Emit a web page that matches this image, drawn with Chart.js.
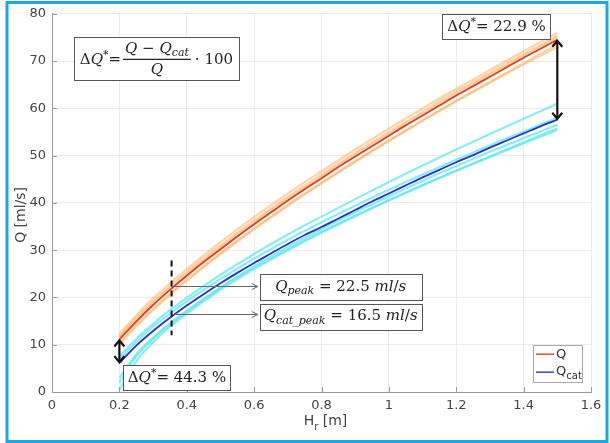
<!DOCTYPE html>
<html>
<head>
<meta charset="utf-8">
<script src="https://cdn.jsdelivr.net/npm/chart.js@4/dist/chart.umd.min.js"></script>
<style>
html,body{margin:0;padding:0;background:#fff;}
#wrap{position:relative;width:610px;height:443px;}
</style>
</head>
<body>
<div id="wrap"><canvas id="c" width="610" height="443"></canvas></div>
<script>
// ---------------- data ----------------
const H = [0.2,0.25,0.3,0.35,0.4,0.45,0.5,0.55,0.6,0.65,0.7,0.75,0.8,0.85,0.9,0.95,1.0,1.05,1.1,1.15,1.2,1.25,1.3,1.35,1.4,1.45,1.5];
const Q = [11.1,14.9,18.4,21.6,24.6,27.5,30.2,32.9,35.5,38.0,40.5,42.9,45.2,47.6,49.8,52.0,54.2,56.4,58.5,60.6,62.7,64.7,66.7,68.7,70.7,72.6,74.5];
const Qcat = [6.1,9.8,12.9,15.7,18.3,20.7,23.0,25.2,27.3,29.3,31.3,33.2,34.9,36.7,38.5,40.3,42.0,43.7,45.4,47.0,48.6,50.1,51.7,53.2,54.7,56.2,57.6];

const bandH = [0.2,0.25,0.3,0.35,0.4,0.5,0.6,0.7,0.8,0.9,1.0,1.1,1.2,1.3,1.4,1.5];
const qRunA = [12.3,16.2,19.8,23.0,26.0,31.7,37.0,42.0,46.7,51.3,55.7,60.0,64.1,68.1,72.1,76.0];
const qRunB = [11.8,15.7,19.2,22.4,25.4,31.0,36.3,41.3,46.0,50.6,55.0,59.3,63.5,67.5,71.5,75.3];
const qRunC = [10.4,14.2,17.6,20.8,23.8,29.4,34.6,39.6,44.3,48.8,53.2,57.4,61.5,65.4,69.3,72.9];
const qRunD = [10.0,13.8,17.3,20.5,23.5,29.1,34.4,39.4,44.1,48.7,53.1,57.4,61.6,65.6,69.6,73.5];
const qRunE = [11.5,15.3,18.8,22.0,25.0,30.6,35.9,40.9,45.6,50.2,54.6,58.9,63.1,67.1,71.1,75.0];
const catRunA = [7.5,11.2,14.4,17.3,19.9,24.8,29.2,33.3,37.1,40.8,44.4,47.9,51.3,54.6,57.8,61.0];
const catRunB = [6.8,10.6,13.8,16.6,19.2,23.9,28.2,32.2,35.9,39.4,42.8,46.0,49.1,52.2,55.1,58.0];
const catRunC = [3.0,8.0,11.5,14.5,17.2,22.0,26.3,30.2,33.9,37.3,40.6,43.8,46.8,49.7,52.6,55.4];
const catRunD = [0.5,6.5,10.5,13.8,16.6,21.6,26.0,30.0,33.7,37.2,40.5,43.7,46.8,49.8,52.8,55.8];
const catRunE = [2.0,7.5,11.2,14.3,17.0,22.1,26.6,30.7,34.5,38.0,41.4,44.7,47.8,50.8,53.7,56.5];

const xTickLabels = ['0','0.2','0.4','0.6','0.8','1','1.2','1.4','1.6'];
const yTickLabels = ['0','10','20','30','40','50','60','70','80'];

const hPeak = 0.355;
const qPeak = 22.5;
const qCatPeak = 16.5;
const dqLow = '44.3 %';
const dqHigh = '22.9 %';
const seriesNames = ['Q', 'Q', 'cat']; // legend: "Q" and "Q" with subscript "cat"

// ---------------- helpers ----------------
const pts = (xs, ys) => xs.map((x, i) => ({x, y: ys[i]}));
const band = (arr, color) => ({data: pts(bandH, arr), borderColor: color, borderWidth: 2.2, pointRadius: 0, cubicInterpolationMode: 'monotone', fill: false});
const ORANGE = 'rgba(248,178,98,0.55)';
const CYAN = 'rgba(100,230,240,0.75)';
const FAM = '"DejaVu Serif", serif';

function fontFor(s, size) {
  return s === 'sub' ? 'italic ' + Math.round(size*0.72) + 'px ' + FAM :
         s === 'sup' ? Math.round(size*0.7) + 'px ' + FAM :
         s === 'i' ? 'italic ' + size + 'px ' + FAM : size + 'px ' + FAM;
}
function measureRich(ctx, parts, size) {
  let w = 0;
  parts.forEach(p => { ctx.font = fontFor(p[1], size); w += ctx.measureText(p[0]).width; });
  return w;
}
function richText(ctx, x, y, parts, size, align) {
  const w = measureRich(ctx, parts, size);
  let cx = align === 'center' ? x - w/2 : x;
  ctx.textBaseline = 'middle';
  ctx.textAlign = 'left';
  parts.forEach(p => {
    ctx.font = fontFor(p[1], size);
    const dy = p[1] === 'sub' ? size*0.3 : p[1] === 'sup' ? -size*0.35 : 0;
    ctx.fillText(p[0], cx, y + dy);
    cx += ctx.measureText(p[0]).width;
  });
  return w;
}

function doubleArrow(ctx, x, y1, y2) {
  ctx.save();
  ctx.strokeStyle = '#111'; ctx.lineWidth = 2.2;
  ctx.beginPath(); ctx.moveTo(x, y1 + 2); ctx.lineTo(x, y2 - 2); ctx.stroke();
  ctx.beginPath();
  ctx.moveTo(x - 5, y1 + 7); ctx.lineTo(x, y1 + 1); ctx.lineTo(x + 5, y1 + 7);
  ctx.moveTo(x - 5, y2 - 7); ctx.lineTo(x, y2 - 1); ctx.lineTo(x + 5, y2 - 7);
  ctx.stroke();
  ctx.restore();
}

function boxAt(ctx, l, t, r, b) {
  ctx.save();
  ctx.fillStyle = '#fff';
  ctx.fillRect(l, t, r - l, b - t);
  ctx.strokeStyle = '#555'; ctx.lineWidth = 1;
  ctx.strokeRect(Math.round(l)+0.5, Math.round(t)+0.5, Math.round(r-l), Math.round(b-t));
  ctx.restore();
}

const overlay = {
  id: 'overlay',
  afterDatasetsDraw(chart) {
    const ctx = chart.ctx;
    const xs = chart.scales.x, ys = chart.scales.y;
    const px = v => xs.getPixelForValue(v), py = v => ys.getPixelForValue(v);
    const area = chart.chartArea;

    // inward ticks
    ctx.save();
    ctx.strokeStyle = '#999'; ctx.lineWidth = 1;
    ctx.beginPath();
    xTickLabels.forEach((s) => { const X = Math.round(px(parseFloat(s))) + 0.5; ctx.moveTo(X, area.bottom); ctx.lineTo(X, area.bottom - 5); });
    yTickLabels.forEach((s) => { const Y = Math.round(py(parseFloat(s))) + 0.5; ctx.moveTo(area.left, Y); ctx.lineTo(area.left + 5, Y); });
    ctx.stroke();
    ctx.restore();

    ctx.save();
    ctx.fillStyle = '#222';

    // formula box
    {
      const l = px(0.065), t = py(75.0), r = px(0.555), b = py(65.9);
      boxAt(ctx, l, t, r, b);
      ctx.fillStyle = '#222';
      const cy = (t + b) / 2;
      const S = 15;
      const lhs = [['Δ','n'],['Q','i'],['*','sup'],['=','n']];
      const num = [['Q','i'],[' − ','n'],['Q','i'],['cat','sub']];
      const tail = [['· 100','n']];
      const wl = measureRich(ctx, lhs, S), wn = measureRich(ctx, num, S), wt = measureRich(ctx, tail, S);
      const total = wl + 2 + wn + 4 + 4 + wt;
      let x0 = (l + r) / 2 - total / 2;
      richText(ctx, x0, cy + 1, lhs, S, 'left');
      const fx = x0 + wl + 2 + (wn + 4) / 2;
      richText(ctx, fx, cy - 10, num, S, 'center');
      ctx.strokeStyle = '#222'; ctx.lineWidth = 1.2;
      ctx.beginPath(); ctx.moveTo(fx - wn/2 - 2, cy + 0.5); ctx.lineTo(fx + wn/2 + 2, cy + 0.5); ctx.stroke();
      richText(ctx, fx, cy + 11, [['Q','i']], S, 'center');
      richText(ctx, fx + wn/2 + 6, cy + 1, tail, S, 'left');
    }

    // top-right delta box
    {
      const l = px(1.159), t = py(79.9), r = px(1.48), b = py(74.7);
      boxAt(ctx, l, t, r, b);
      ctx.fillStyle = '#222';
      richText(ctx, (l + r) / 2, (t + b) / 2 + 1, [['Δ','n'],['Q','i'],['*','sup'],['= ' + dqHigh,'n']], 15, 'center');
    }

    // bottom-left delta box
    {
      const l = px(0.212), t = py(5.7), r = px(0.53), b = py(0.4);
      boxAt(ctx, l, t, r, b);
      ctx.fillStyle = '#222';
      richText(ctx, (l + r) / 2, (t + b) / 2 + 1, [['Δ','n'],['Q','i'],['*','sup'],['= ' + dqLow,'n']], 15, 'center');
    }

    // double arrows
    doubleArrow(ctx, px(H[H.length-1]), py(Q[Q.length-1]), py(Qcat[Qcat.length-1]));
    doubleArrow(ctx, px(H[0]), py(Q[0]), py(Qcat[0]));

    // dashed vertical line at peak
    ctx.save();
    ctx.strokeStyle = '#111'; ctx.lineWidth = 2; ctx.setLineDash([6, 4]);
    ctx.beginPath(); ctx.moveTo(px(hPeak), py(27.8)); ctx.lineTo(px(hPeak), py(12.0)); ctx.stroke();
    ctx.restore();

    // peak boxes and grey arrows
    const boxL = px(0.617), boxR = px(1.097);
    ctx.save();
    ctx.strokeStyle = '#666'; ctx.lineWidth = 1;
    [qPeak, qCatPeak].forEach(v => {
      const Y = Math.round(py(v)) + 0.5;
      ctx.beginPath(); ctx.moveTo(px(hPeak), Y); ctx.lineTo(boxL - 3, Y); ctx.stroke();
      ctx.beginPath(); ctx.moveTo(boxL - 8, Y - 3); ctx.lineTo(boxL - 2, Y); ctx.lineTo(boxL - 8, Y + 3); ctx.stroke();
    });
    ctx.restore();
    {
      const t = py(25.0), b = py(19.4);
      boxAt(ctx, boxL, t, boxR, b);
      ctx.fillStyle = '#222';
      richText(ctx, (boxL + boxR) / 2, (t + b) / 2, [['Q','i'],['peak','sub'],[' = ' + qPeak + ' ','n'],['ml','i'],['/','n'],['s','i']], 15, 'center');
    }
    {
      const t = py(18.7), b = py(13.2);
      boxAt(ctx, boxL, t, boxR, b);
      ctx.fillStyle = '#222';
      richText(ctx, (boxL + boxR) / 2, (t + b) / 2, [['Q','i'],['cat_peak','sub'],[' = ' + qCatPeak + ' ','n'],['ml','i'],['/','n'],['s','i']], 15, 'center');
    }

    // legend
    {
      const l = px(1.428), t = py(9.9), r = px(1.572), b = py(2.0);
      ctx.fillStyle = '#fff'; ctx.fillRect(l, t, r - l, b - t);
      ctx.strokeStyle = '#aaa'; ctx.lineWidth = 1;
      ctx.strokeRect(Math.round(l)+0.5, Math.round(t)+0.5, Math.round(r-l), Math.round(b-t));
      const y1 = t + 9, y2 = t + 27;
      ctx.lineWidth = 1.5;
      ctx.strokeStyle = '#f04040'; ctx.beginPath(); ctx.moveTo(l + 3, y1); ctx.lineTo(l + 21, y1); ctx.stroke();
      ctx.strokeStyle = '#3848d8'; ctx.beginPath(); ctx.moveTo(l + 3, y2); ctx.lineTo(l + 21, y2); ctx.stroke();
      ctx.fillStyle = '#333'; ctx.textBaseline = 'middle'; ctx.textAlign = 'left';
      ctx.font = '13px "DejaVu Sans", sans-serif';
      ctx.fillText(seriesNames[0], l + 23, y1);
      ctx.fillText(seriesNames[1], l + 23, y2 - 1);
      const w = ctx.measureText(seriesNames[1]).width;
      ctx.font = '10px "DejaVu Sans", sans-serif';
      ctx.fillText(seriesNames[2], l + 23 + w, y2 + 4);
    }

    // axis titles
    ctx.fillStyle = '#444'; ctx.textBaseline = 'middle';
    ctx.font = '14px "DejaVu Sans", sans-serif';
    const cx = (area.left + area.right) / 2;
    const wH = ctx.measureText('H').width;
    ctx.font = '10px "DejaVu Sans", sans-serif';
    const wr = ctx.measureText('r').width;
    ctx.font = '14px "DejaVu Sans", sans-serif';
    const wm = ctx.measureText(' [m]').width;
    let x0 = cx - (wH + wr + wm) / 2 + 4;
    ctx.textAlign = 'left';
    ctx.fillText('H', x0, 421);
    ctx.font = '10px "DejaVu Sans", sans-serif';
    ctx.fillText('r', x0 + wH, 427);
    ctx.font = '14px "DejaVu Sans", sans-serif';
    ctx.fillText(' [m]', x0 + wH + wr, 421);

    ctx.save();
    ctx.translate(21, (area.top + area.bottom) / 2 + 12);
    ctx.rotate(-Math.PI / 2);
    ctx.textAlign = 'center';
    ctx.fillText('Q [ml/s]', 0, 0);
    ctx.restore();

    // outer frame
    ctx.strokeStyle = '#1aa7e6'; ctx.lineWidth = 3;
    ctx.strokeRect(7, 2.5, 600, 439);
    ctx.restore();
  }
};

new Chart(document.getElementById('c'), {
  type: 'line',
  data: {
    datasets: [
      {label: 'Q', data: pts(H, Q), borderColor: '#e63a22', borderWidth: 1.8, pointRadius: 0, cubicInterpolationMode: 'monotone', fill: false},
      {label: 'Qcat', data: pts(H, Qcat), borderColor: '#2233d6', borderWidth: 1.8, pointRadius: 0, cubicInterpolationMode: 'monotone', fill: false},
      band(qRunA, ORANGE), band(qRunB, ORANGE), band(qRunC, ORANGE), band(qRunD, ORANGE), band(qRunE, ORANGE),
      band(catRunA, CYAN), band(catRunB, CYAN), band(catRunC, CYAN), band(catRunD, CYAN), band(catRunE, CYAN)
    ]
  },
  options: {
    responsive: false,
    animation: false,
    layout: {padding: {left: 0, right: 19, top: 12, bottom: 0}},
    plugins: {legend: {display: false}, tooltip: {enabled: false}},
    scales: {
      x: {
        type: 'linear', min: 0, max: 1.6,
        afterBuildTicks: s => { s.ticks = xTickLabels.map(v => ({value: parseFloat(v)})); },
        afterFit: s => { s.height = 51; },
        ticks: {callback: (v, i) => xTickLabels[i], color: '#444', font: {family: '"DejaVu Sans", sans-serif', size: 13}, padding: 6, maxRotation: 0, autoSkip: false},
        grid: {color: '#ebebeb', drawTicks: false},
        border: {color: '#999'}
      },
      y: {
        type: 'linear', min: 0, max: 80,
        afterBuildTicks: s => { s.ticks = yTickLabels.map(v => ({value: parseFloat(v)})); },
        afterFit: s => { s.width = 52; },
        ticks: {callback: (v, i) => yTickLabels[i], color: '#444', font: {family: '"DejaVu Sans", sans-serif', size: 13}, padding: 6, autoSkip: false},
        grid: {color: '#ebebeb', drawTicks: false},
        border: {color: '#999'}
      }
    }
  },
  plugins: [overlay]
});
</script>
</body>
</html>
